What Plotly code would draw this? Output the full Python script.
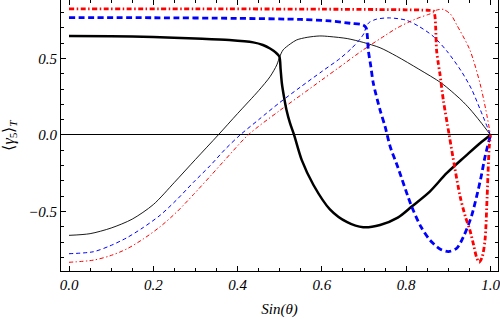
import plotly.graph_objects as go

# Black (solid)
black_thick_x = [0, 0.1, 0.2, 0.3, 0.38, 0.437, 0.46, 0.477, 0.49, 0.499, 0.502, 0.505, 0.51, 0.516, 0.524, 0.534, 0.552, 0.58, 0.619, 0.66, 0.698, 0.738, 0.78, 0.813, 0.856, 0.896, 0.94, 0.975, 1.0]
black_thick_y = [0.647, 0.645, 0.64, 0.63, 0.62, 0.605, 0.588, 0.565, 0.54, 0.512, 0.43, 0.338, 0.25, 0.163, 0.08, 0.0, -0.163, -0.327, -0.486, -0.57, -0.603, -0.588, -0.54, -0.468, -0.37, -0.25, -0.14, -0.054, 0.0]
black_thin_x = [0, 0.05, 0.1, 0.15, 0.2, 0.25, 0.3, 0.354, 0.4, 0.45, 0.477, 0.493, 0.5, 0.508, 0.525, 0.54, 0.565, 0.595, 0.619, 0.66, 0.698, 0.738, 0.777, 0.83, 0.884, 0.93, 0.951, 0.975, 1.0]
black_thin_y = [-0.656, -0.645, -0.608, -0.55, -0.455, -0.31, -0.16, 0.0, 0.14, 0.29, 0.381, 0.458, 0.512, 0.556, 0.595, 0.621, 0.638, 0.647, 0.643, 0.63, 0.605, 0.57, 0.515, 0.43, 0.338, 0.23, 0.17, 0.09, 0.0]

# Blue (dashed)
blue_thick_x = [0, 0.2, 0.4, 0.55, 0.619, 0.667, 0.698, 0.705, 0.708, 0.71, 0.716, 0.722, 0.738, 0.75, 0.762, 0.78, 0.813, 0.835, 0.856, 0.88, 0.9, 0.92, 0.936, 0.955, 0.967, 0.978, 0.987, 1.0]
blue_thick_y = [0.767, 0.766, 0.762, 0.755, 0.745, 0.73, 0.719, 0.70, 0.64, 0.556, 0.45, 0.338, 0.163, 0.054, -0.076, -0.21, -0.468, -0.6, -0.686, -0.745, -0.762, -0.74, -0.664, -0.53, -0.403, -0.27, -0.142, 0.0]
blue_thin_x = [0, 0.058, 0.097, 0.137, 0.176, 0.216, 0.255, 0.295, 0.335, 0.37, 0.406, 0.45, 0.5, 0.55, 0.6, 0.643, 0.67, 0.69, 0.7, 0.705, 0.712, 0.73, 0.76, 0.8, 0.83, 0.864, 0.896, 0.93, 0.955, 0.975, 1.0]
blue_thin_y = [-0.776, -0.763, -0.725, -0.672, -0.605, -0.525, -0.425, -0.31, -0.2, -0.095, 0.0, 0.1, 0.212, 0.315, 0.415, 0.5, 0.565, 0.625, 0.665, 0.708, 0.735, 0.757, 0.765, 0.75, 0.71, 0.645, 0.55, 0.42, 0.3, 0.17, 0.0]

# Red (dot-dashed)
red_thick_x = [0, 0.3, 0.6, 0.8, 0.85, 0.865, 0.868, 0.87, 0.872, 0.876, 0.88, 0.888, 0.902, 0.915, 0.928, 0.94, 0.951, 0.96, 0.967, 0.973, 0.98, 0.987, 0.992, 0.997, 1.0]
red_thick_y = [0.824, 0.824, 0.822, 0.818, 0.815, 0.81, 0.78, 0.7, 0.556, 0.47, 0.4, 0.229, 0.0, -0.21, -0.403, -0.53, -0.621, -0.72, -0.8, -0.832, -0.8, -0.686, -0.403, -0.076, 0.0]
red_thin_x = [0, 0.058, 0.097, 0.137, 0.176, 0.216, 0.255, 0.295, 0.335, 0.37, 0.425, 0.5, 0.55, 0.6, 0.643, 0.698, 0.75, 0.777, 0.82, 0.85, 0.865, 0.871, 0.88, 0.888, 0.905, 0.92, 0.951, 0.975, 0.989, 1.0]
red_thin_y = [-0.832, -0.818, -0.79, -0.745, -0.68, -0.6, -0.505, -0.39, -0.27, -0.163, 0.0, 0.16, 0.26, 0.36, 0.446, 0.556, 0.65, 0.697, 0.755, 0.785, 0.8, 0.815, 0.82, 0.821, 0.79, 0.719, 0.556, 0.338, 0.163, 0.0]

x_ticks = [0.0, 0.2, 0.4, 0.6, 0.8, 1.0]
x_tick_labels = ["0.0", "0.2", "0.4", "0.6", "0.8", "1.0"]
y_ticks = [-0.5, 0.0, 0.5]
y_tick_labels = ["\u22120.5", "0.0", "0.5"]

fig = go.Figure()

def add(x, y, color, width, dash):
    fig.add_trace(go.Scatter(x=x, y=y, mode="lines",
                             line=dict(color=color, width=width, dash=dash, shape="spline", smoothing=0.8),
                             showlegend=False, hoverinfo="skip"))

add(black_thin_x, black_thin_y, "black", 0.9, "solid")
add(blue_thin_x, blue_thin_y, "#0000ff", 1.0, "4px,3px")
add(red_thin_x, red_thin_y, "#ff0000", 1.0, "4px,2.5px,1.3px,2.5px")
add(black_thick_x, black_thick_y, "black", 2.5, "solid")
add(blue_thick_x, blue_thick_y, "#0000ff", 2.8, "6px,3.5px")
add(red_thick_x, red_thick_y, "#ff0000", 2.8, "5px,2.5px,1.5px,2.5px")

serif = "Liberation Serif, Times New Roman, serif"
tickfont = dict(family=serif, size=15, color="black", style="italic")

fig.update_layout(
    width=500, height=319,
    margin=dict(l=61, r=2, t=0, b=48),
    paper_bgcolor="white", plot_bgcolor="white",
    xaxis=dict(range=[-0.019, 1.0178], tickvals=x_ticks, ticktext=x_tick_labels,
               showgrid=False, zeroline=False, showline=True, linecolor="black", linewidth=1,
               mirror="allticks", ticks="inside", ticklen=5, tickwidth=1, tickcolor="black",
               minor=dict(dtick=0.05, tick0=0, ticks="inside", ticklen=3, tickcolor="black", tickwidth=1),
               tickfont=tickfont, ticklabeloverflow="allow",
               title=dict(text="Sin(<i>θ</i>)", font=dict(family=serif, size=15, color="black", style="italic"), standoff=11)),
    yaxis=dict(range=[-0.889, 0.882], tickvals=y_ticks, ticktext=y_tick_labels,
               showgrid=False, zeroline=True, zerolinecolor="black", zerolinewidth=1,
               showline=True, linecolor="black", linewidth=1,
               mirror="allticks", ticks="inside", ticklen=5, tickwidth=1, tickcolor="black",
               minor=dict(dtick=0.1, tick0=0, ticks="inside", ticklen=3, tickcolor="black", tickwidth=1),
               tickfont=tickfont, ticklabeloverflow="allow",
               title=dict(text="\u27e8<i>γ</i><sub>5</sub>\u27e9<sub><i>T</i></sub>", font=dict(family=serif, size=16, color="black"), standoff=14)),
)

fig.write_html("out.html", config={"displayModeBar": False},
               post_script="document.body.style.margin='0';document.body.style.padding='0';")
